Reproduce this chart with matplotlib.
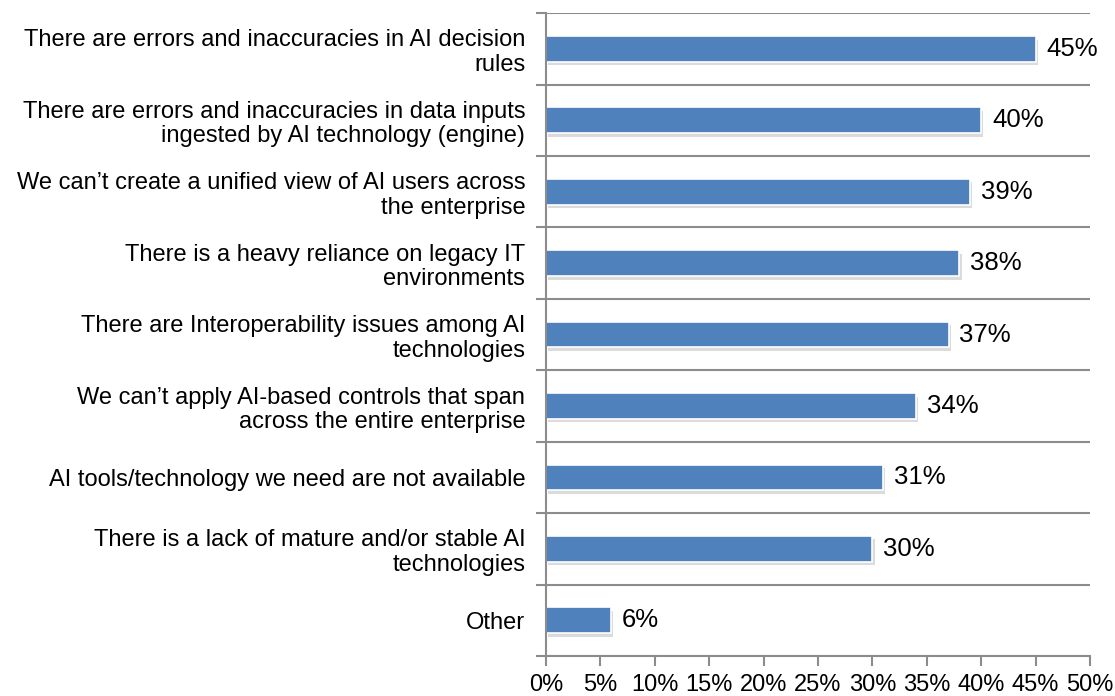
import numpy as np
import matplotlib.pyplot as plt
import matplotlib.patheffects as pe
from matplotlib.ticker import FixedLocator

plt.rcParams['font.family'] = ['Liberation Sans', 'DejaVu Sans']

# Reasons, top to bottom
labels = [
    'There are errors and inaccuracies in AI decision\nrules',
    'There are errors and inaccuracies in data inputs\ningested by AI technology (engine)',
    'We can\u2019t create a unified view of AI users across\nthe enterprise',
    'There is a heavy reliance on legacy IT\nenvironments',
    'There are Interoperability issues among AI\ntechnologies',
    'We can\u2019t apply AI-based controls that span\nacross the entire enterprise',
    'AI tools/technology we need are not available',
    'There is a lack of mature and/or stable AI\ntechnologies',
    'Other',
]
pct = [45, 40, 39, 38, 37, 34, 31, 30, 6]
xticks = [0, 5, 10, 15, 20, 25, 30, 35, 40, 45, 50]

grey = '#8c8c8c'
blue = '#4f81bd'
fs = 17

fig = plt.figure(figsize=(11.15, 6.96), dpi=100)
ax = fig.add_axes([0.4897, 0.0575, 0.4879, 0.9235])

n = len(labels)
ypos = np.arange(n)[::-1]
bars = ax.barh(ypos, pct, height=0.36, color=blue, edgecolor='white', linewidth=1.2)
for b in bars:
    b.set_path_effects([pe.SimplePatchShadow(offset=(1.5, -2.5), shadow_rgbFace='#9a9a9a', alpha=0.35),
                        pe.Normal()])

# value labels next to each bar
for y, v in zip(ypos, pct):
    ax.text(v + 1.0, y, f'{v}%', va='center', ha='left', fontsize=18.5)

ax.set_xlim(0, 50)
ax.set_ylim(-0.5, n - 0.5)
ax.set_xticks(xticks)
ax.set_xticklabels([f'{t}%' for t in xticks], fontsize=fs)

ax.set_yticks(ypos)
ax.set_yticklabels(labels, fontsize=fs, linespacing=1.15)
ax.yaxis.set_minor_locator(FixedLocator(np.arange(-0.5, n, 1.0)))
ax.tick_params(axis='y', which='major', length=0, pad=15)
ax.tick_params(axis='y', which='minor', length=7, width=1.5, color=grey)
ax.tick_params(axis='x', which='major', length=7, width=1.5, color=grey, pad=6)
ax.grid(axis='y', which='minor', color=grey, linewidth=1.5)
ax.set_axisbelow(True)

for s in ['top', 'right']:
    ax.spines[s].set_visible(False)
for s in ['left', 'bottom']:
    ax.spines[s].set_color(grey)
    ax.spines[s].set_linewidth(1.5)

fig.savefig('out.png', dpi=100)
